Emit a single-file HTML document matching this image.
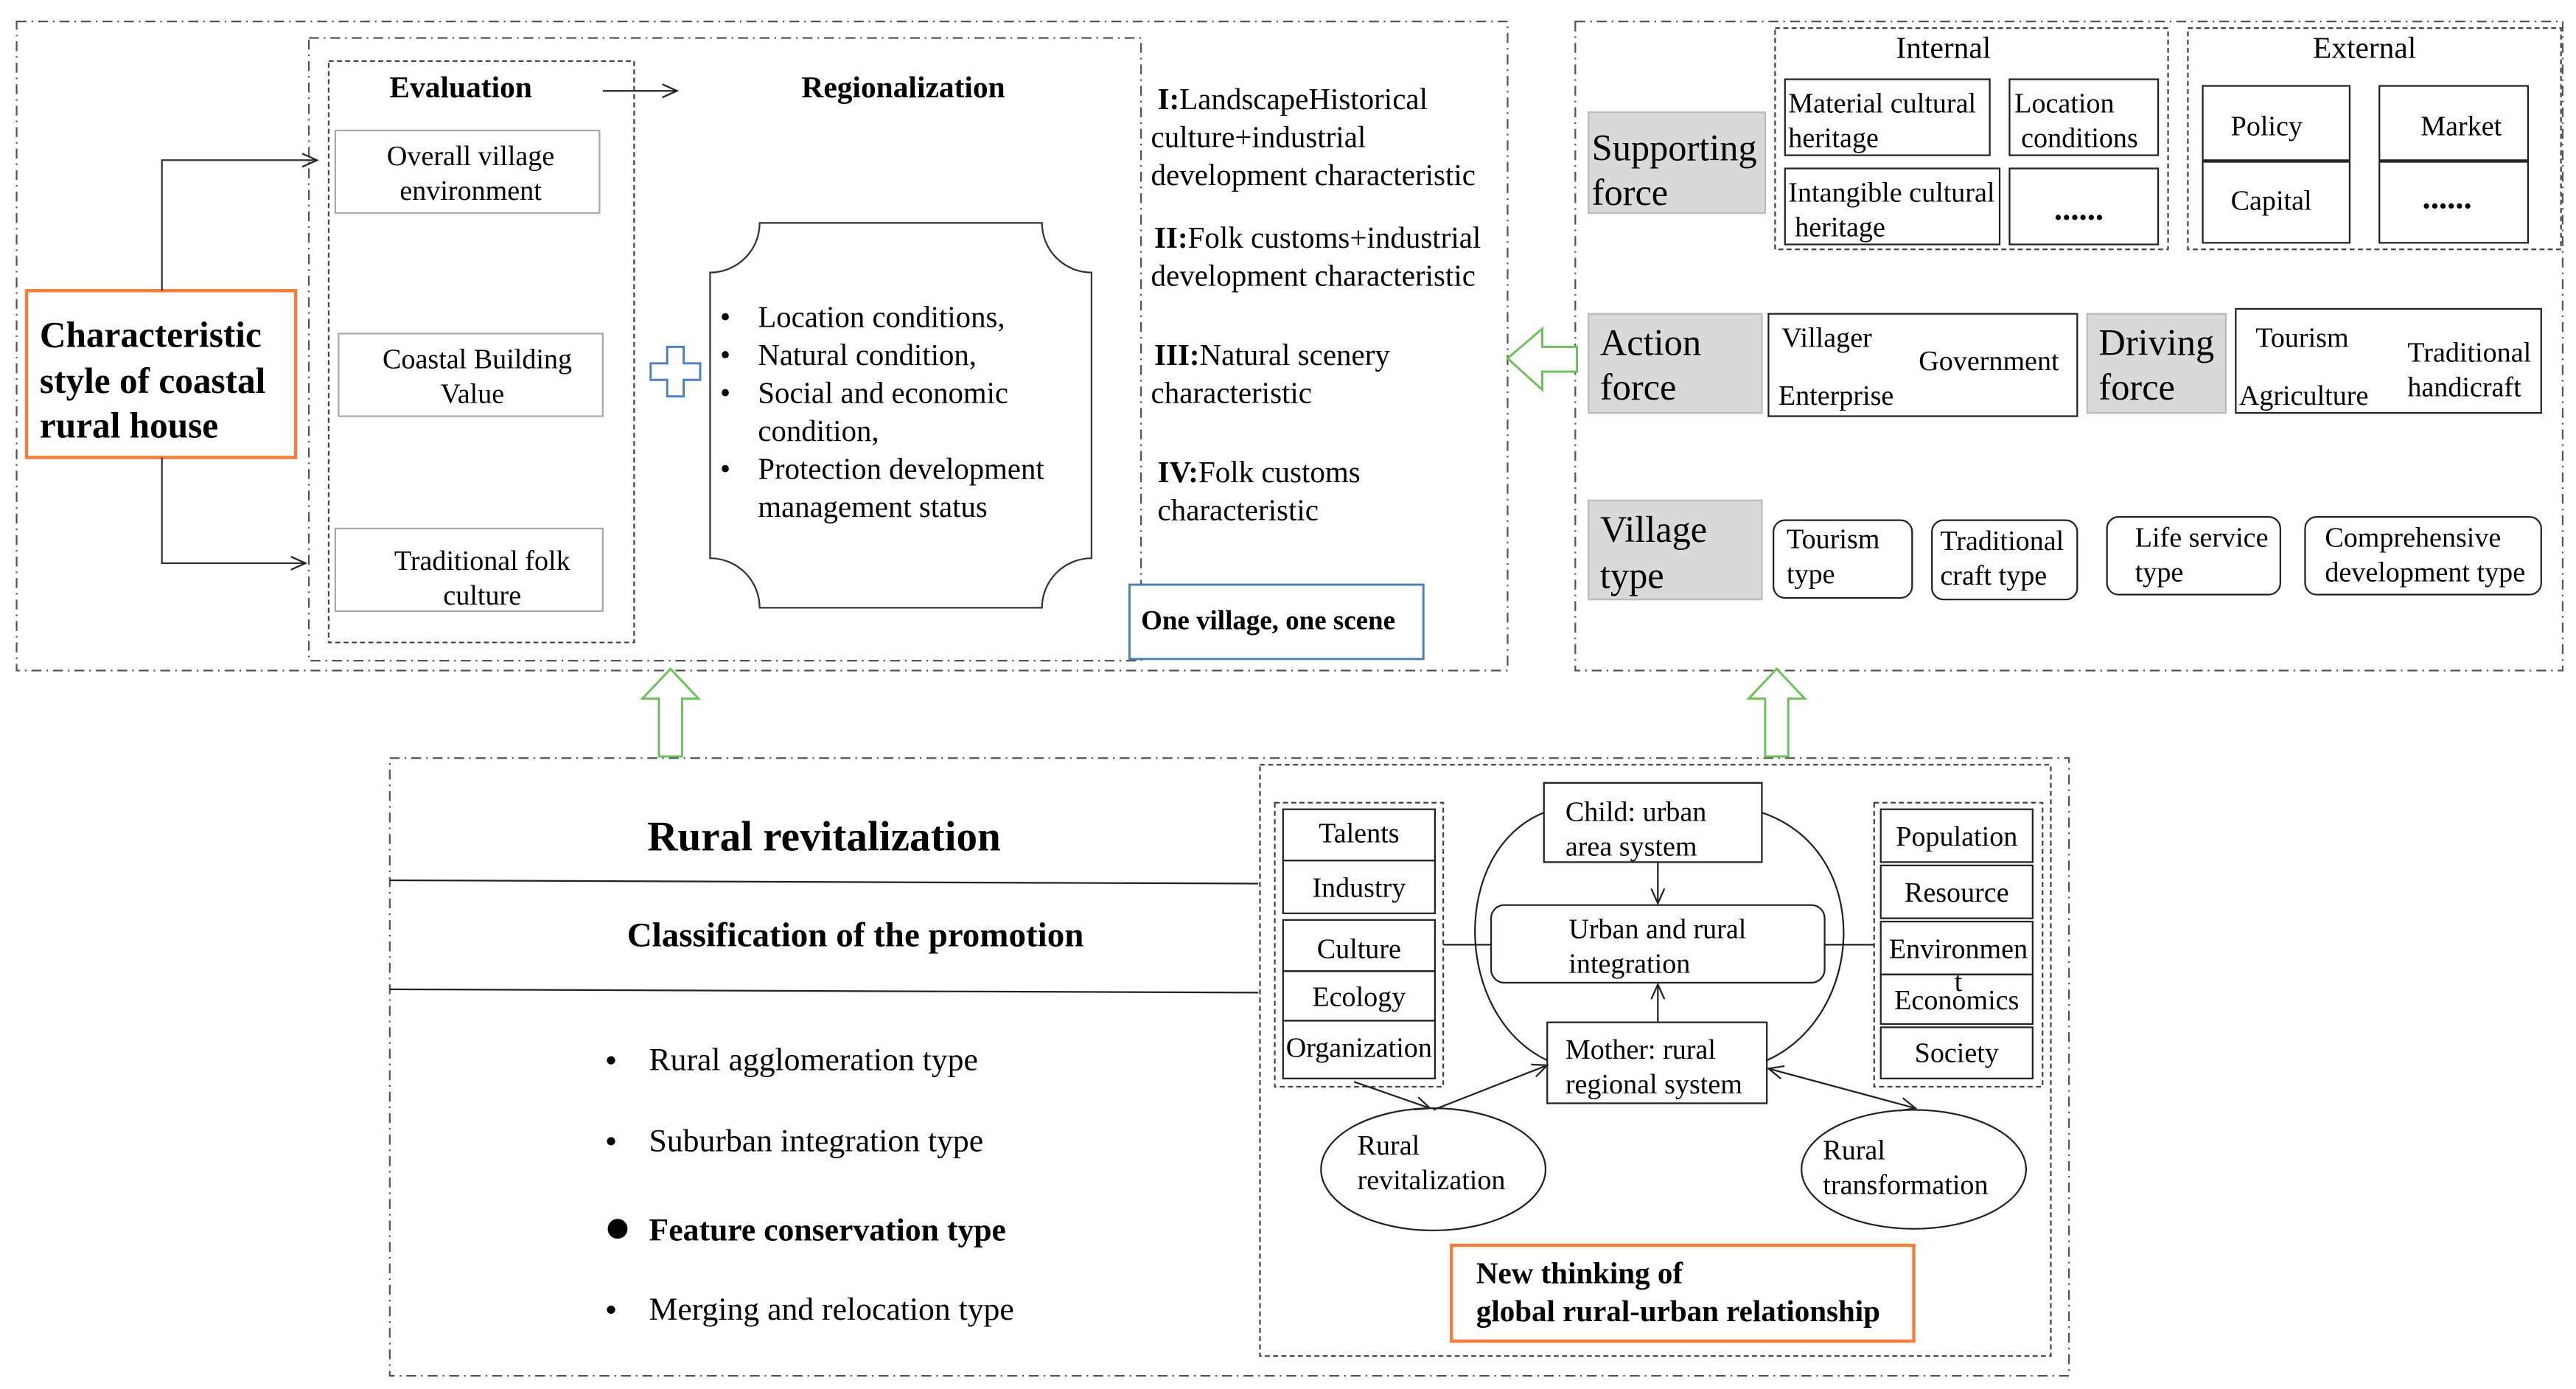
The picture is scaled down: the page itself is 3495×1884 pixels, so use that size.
<!DOCTYPE html>
<html><head><meta charset="utf-8"><style>html,body{margin:0;padding:0;background:#fff}svg{display:block}</style></head><body>
<svg width="3495" height="1884" viewBox="0 0 1560 841" xmlns="http://www.w3.org/2000/svg" font-family="'Liberation Serif', serif" fill="#000">
<defs>
<marker id="a" markerWidth="10" markerHeight="10" refX="9" refY="5" orient="auto" markerUnits="userSpaceOnUse"><path d="M0,1 L9,5 L0,9" fill="none" stroke="#222" stroke-width="1"/></marker>
<marker id="b" markerWidth="10" markerHeight="10" refX="9" refY="5" orient="auto-start-reverse" markerUnits="userSpaceOnUse"><path d="M0,1 L9,5 L0,9" fill="none" stroke="#222" stroke-width="1"/></marker>
</defs>
<g fill="none" stroke="#555" stroke-width="1" stroke-dasharray="6,3,1,3">
<rect x="10" y="13" width="903" height="393"/>
<rect x="187" y="23" width="504" height="377"/>
<rect x="954" y="13" width="598" height="393"/>
<rect x="236" y="459" width="1017" height="374"/>
</g>
<g fill="none" stroke="#444" stroke-width="1" stroke-dasharray="3,2">
<rect x="199" y="37" width="185" height="352"/>
<rect x="1075" y="17" width="238" height="134"/>
<rect x="1325" y="17" width="226" height="134"/>
<rect x="763" y="463" width="479" height="358"/>
<rect x="772" y="486" width="102" height="172"/>
<rect x="1135" y="486" width="102" height="172"/>
</g>
<g font-size="18.5" text-anchor="middle">
<text x="279" y="59" font-weight="bold">Evaluation</text>
<text x="547" y="59" font-weight="bold">Regionalization</text>
</g>
<line x1="365" y1="55" x2="410" y2="55" stroke="#222" marker-end="url(#a)"/>
<g fill="none" stroke="#aaa" stroke-width="1">
<rect x="203" y="79" width="160" height="50"/>
<rect x="205" y="202" width="160" height="50"/>
<rect x="203" y="320" width="162" height="50"/>
</g>
<g font-size="17" text-anchor="middle">
<text x="285" y="100">Overall village</text><text x="285" y="121">environment</text>
<text x="289" y="223">Coastal Building</text><text x="286" y="244">Value</text>
<text x="292" y="345">Traditional folk</text><text x="292" y="366">culture</text>
</g>
<rect x="16" y="176" width="163" height="101" fill="none" stroke="#f07f3c" stroke-width="2"/>
<g font-size="22" font-weight="bold"><text x="24" y="210">Characteristic</text><text x="24" y="238">style of coastal</text><text x="24" y="265">rural house</text></g>
<path d="M98,176 V97 H192" fill="none" stroke="#333" marker-end="url(#a)"/>
<path d="M98,277 V341 H185" fill="none" stroke="#333" marker-end="url(#a)"/>
<path d="M404,210 h10 v10 h10 v10 h-10 v10 h-10 v-10 h-10 v-10 h10 z" fill="#fff" stroke="#4a7fc0" stroke-width="1.3"/>
<path d="M460,135 H631 A30,30 0 0 0 661,165 V338 A30,30 0 0 0 631,368 H460 A30,30 0 0 0 430,338 V165 A30,30 0 0 0 460,135 Z" fill="none" stroke="#333"/>
<g font-size="18.2">
<text x="436" y="198">•</text><text x="459" y="198">Location conditions,</text>
<text x="436" y="221">•</text><text x="459" y="221">Natural condition,</text>
<text x="436" y="244">•</text><text x="459" y="244">Social and economic</text>
<text x="459" y="267">condition,</text>
<text x="436" y="290">•</text><text x="459" y="290">Protection development</text>
<text x="459" y="313">management status</text>
</g>
<g font-size="18.3">
<text x="701" y="66"><tspan font-weight="bold">I:</tspan>LandscapeHistorical</text>
<text x="697" y="89">culture+industrial</text>
<text x="697" y="112">development characteristic</text>
<text x="699" y="150"><tspan font-weight="bold">II:</tspan>Folk customs+industrial</text>
<text x="697" y="173">development characteristic</text>
<text x="699" y="221"><tspan font-weight="bold">III:</tspan>Natural scenery</text>
<text x="697" y="244">characteristic</text>
<text x="701" y="292"><tspan font-weight="bold">IV:</tspan>Folk customs</text>
<text x="701" y="315">characteristic</text>
</g>
<rect x="684" y="354" width="178" height="45" fill="#fff" stroke="#4a7fb0" stroke-width="1.3"/>
<text x="691" y="381" font-size="16.5" font-weight="bold">One village, one scene</text>
<g fill="#fff" stroke="#6cbf5a" stroke-width="1.3">
<path d="M913,217 L934,199 V210 H955 V225 H934 V236 Z"/>
<path d="M406,405 L389,423 H399 V458 H413 V423 H423 Z"/>
<path d="M1076,405 L1059,423 H1069 V458 H1083 V423 H1093 Z"/>
</g>
<g font-size="18.5" text-anchor="middle"><text x="1177" y="35">Internal</text><text x="1432" y="35">External</text></g>
<g fill="#d9d9d9" stroke="#bbb">
<rect x="962" y="68" width="107" height="61"/>
<rect x="962" y="190" width="105" height="60"/>
<rect x="1264" y="190" width="84" height="60"/>
<rect x="962" y="303" width="105" height="60"/>
</g>
<g font-size="22.5">
<text x="964" y="97">Supporting</text><text x="964" y="124">force</text>
<text x="969" y="215">Action</text><text x="969" y="242">force</text>
<text x="1271" y="215">Driving</text><text x="1271" y="242">force</text>
<text x="969" y="328">Village</text><text x="969" y="356">type</text>
</g>
<g fill="none" stroke="#222">
<rect x="1081" y="48" width="124" height="46"/><rect x="1217" y="48" width="90" height="46"/>
<rect x="1081" y="102" width="130" height="46"/><rect x="1217" y="102" width="90" height="46"/>
<rect x="1334" y="52" width="89" height="45"/><rect x="1441" y="52" width="90" height="45"/>
<rect x="1334" y="98" width="89" height="49"/><rect x="1441" y="98" width="90" height="49"/>
<rect x="1071" y="190" width="187" height="62"/>
<rect x="1354" y="187" width="185" height="63"/>
<rect x="1074" y="315" width="84" height="47" rx="7"/>
<rect x="1170" y="315" width="88" height="48" rx="7"/>
<rect x="1276" y="313" width="105" height="47" rx="7"/>
<rect x="1396" y="313" width="143" height="47" rx="7"/>
</g>
<g font-size="17">
<text x="1083" y="68">Material cultural</text><text x="1083" y="89">heritage</text>
<text x="1220" y="68">Location</text><text x="1224" y="89">conditions</text>
<text x="1083" y="122">Intangible cultural</text><text x="1087" y="143">heritage</text>
<text x="1244" y="133" font-weight="bold" font-size="20">......</text>
<text x="1351" y="82">Policy</text><text x="1466" y="82">Market</text>
<text x="1351" y="127">Capital</text><text x="1467" y="126" font-weight="bold" font-size="20">......</text>
<text x="1079" y="210">Villager</text><text x="1162" y="224">Government</text><text x="1077" y="245">Enterprise</text>
<text x="1366" y="210">Tourism</text><text x="1458" y="219">Traditional</text><text x="1356" y="245">Agriculture</text><text x="1458" y="240">handicraft</text>
<text x="1082" y="332">Tourism</text><text x="1082" y="353">type</text>
<text x="1175" y="333">Traditional</text><text x="1175" y="354">craft type</text>
<text x="1293" y="331">Life service</text><text x="1293" y="352">type</text>
<text x="1408" y="331">Comprehensive</text><text x="1408" y="352">development type</text>
</g>
<text x="499" y="515" font-size="25.5" font-weight="bold" text-anchor="middle">Rural revitalization</text>
<line x1="236" y1="533" x2="762" y2="535" stroke="#222"/>
<text x="518" y="573" font-size="21" font-weight="bold" text-anchor="middle">Classification of the promotion</text>
<line x1="236" y1="599" x2="762" y2="601" stroke="#222"/>
<g font-size="19.5">
<circle cx="370" cy="642" r="2.5"/><text x="393" y="648">Rural agglomeration type</text>
<circle cx="370" cy="691" r="2.5"/><text x="393" y="697">Suburban integration type</text>
<circle cx="374" cy="744" r="6"/><text x="393" y="751" font-weight="bold">Feature conservation type</text>
<circle cx="370" cy="793" r="2.5"/><text x="393" y="799">Merging and relocation  type</text>
</g>
<g fill="none" stroke="#222">
<rect x="777" y="490" width="92" height="31"/><rect x="777" y="521" width="92" height="32"/>
<rect x="777" y="557" width="92" height="31"/><rect x="777" y="588" width="92" height="30"/><rect x="777" y="618" width="92" height="35"/>
<rect x="1139" y="490" width="92" height="32"/><rect x="1139" y="524" width="92" height="32"/>
<rect x="1139" y="558" width="92" height="32"/><rect x="1139" y="590" width="92" height="30"/><rect x="1139" y="622" width="92" height="31"/>
<rect x="935" y="474" width="132" height="48"/>
<rect x="903" y="548" width="202" height="47" rx="8"/>
<rect x="937" y="619" width="133" height="49"/>
<path d="M935,492 C878,515 880,615 937,642"/>
<path d="M1067,492 C1135,515 1130,615 1070,642"/>
<line x1="874" y1="572" x2="903" y2="572"/><line x1="1105" y1="572" x2="1135" y2="572"/>
<ellipse cx="868" cy="708" rx="68" ry="37"/>
<ellipse cx="1159" cy="708" rx="68" ry="36"/>
</g>
<g stroke="#222" fill="none">
<line x1="1004" y1="522" x2="1004" y2="547" marker-end="url(#a)"/>
<line x1="1004" y1="619" x2="1004" y2="596" marker-end="url(#a)"/>
<line x1="820" y1="655" x2="866" y2="671" marker-end="url(#a)"/>
<line x1="868" y1="672" x2="937" y2="645" marker-end="url(#a)"/>
<line x1="1071" y1="647" x2="1160" y2="671" marker-start="url(#b)" marker-end="url(#b)"/>
</g>
<g font-size="17" text-anchor="middle">
<text x="823" y="510">Talents</text><text x="823" y="543">Industry</text><text x="823" y="580">Culture</text><text x="823" y="609">Ecology</text><text x="823" y="640">Organization</text>
<text x="1185" y="512">Population</text><text x="1185" y="546">Resource</text><text x="1186" y="580">Environmen</text><text x="1186" y="600">t</text><text x="1185" y="611">Economics</text><text x="1185" y="643">Society</text>
</g>
<g font-size="17">
<text x="948" y="497">Child: urban</text><text x="948" y="518">area system</text>
<text x="950" y="568">Urban and rural</text><text x="950" y="589">integration</text>
<text x="948" y="641">Mother: rural</text><text x="948" y="662">regional system</text>
<text x="822" y="699">Rural</text><text x="822" y="720">revitalization</text>
<text x="1104" y="702">Rural</text><text x="1104" y="723">transformation</text>
</g>
<rect x="879" y="754" width="280" height="58" fill="none" stroke="#f07f3c" stroke-width="2"/>
<g font-size="18.3" font-weight="bold"><text x="894" y="777">New thinking of</text><text x="894" y="800">global rural-urban relationship</text></g>
</svg>
</body></html>
